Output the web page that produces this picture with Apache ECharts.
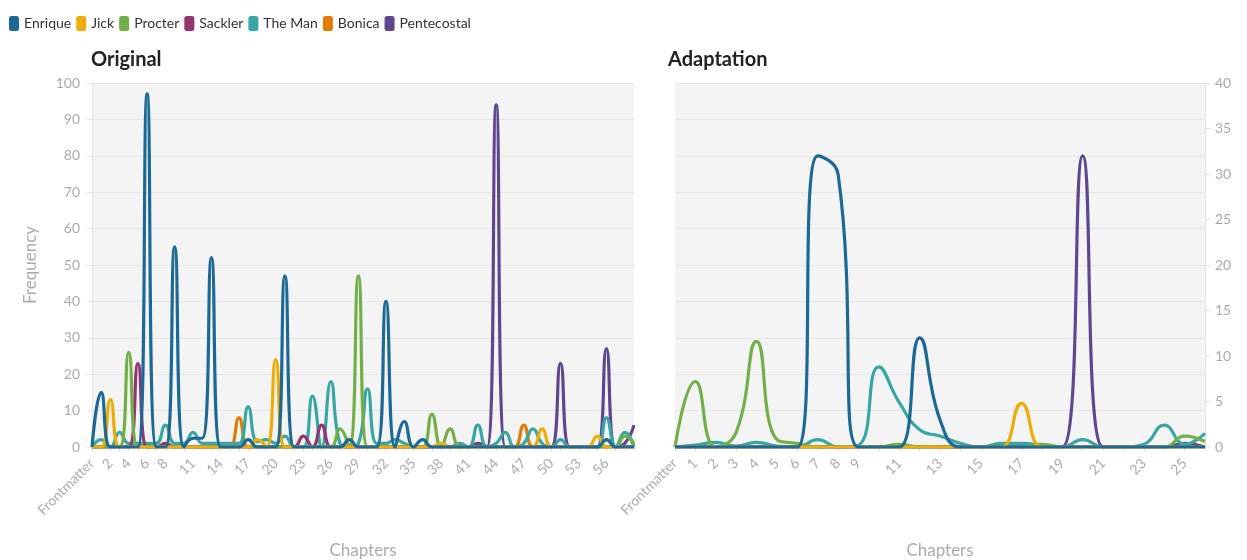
<!DOCTYPE html>
<html>
<head>
<meta charset="utf-8">
<script src="https://cdn.jsdelivr.net/npm/echarts@6/dist/echarts.min.js"></script>
<style>
  html, body { margin: 0; padding: 0; background: #fff; }
  #main { width: 1247px; height: 560px; }
</style>
</head>
<body>
<div id="main"></div>
<script>
// names and colours of the characters
var names = ['Enrique', 'Jick', 'Procter', 'Sackler', 'The Man', 'Bonica', 'Pentecostal'];
var colors = ['#1d6996', '#edad08', '#73af48', '#94346e', '#38a6a5', '#e17c05', '#5f4690'];

// chapters of the original (Frontmatter, 1..59)
var origChapters = ['Frontmatter'];
for (var i = 1; i <= 59; i++) origChapters.push(String(i));
// chapters of the adaptation (Frontmatter, 1..26)
var adaptChapters = ['Frontmatter'];
for (var j = 1; j <= 26; j++) adaptChapters.push(String(j));

// Original
var origEnrique = [0,15,0,0,0,0,97,0,0,55, 0,2.4,2.4,52,0,0,0,2,0,0, 0,47,0,0,0,0,0,0,2,0, 0,0,40,0,7,0,2,0,0,0, 0,0,0,0,0,0,0,0,0,0, 0,0,0,0,0,0,2,0,0,0];
var origJick = [0,0,13,0,0,0,0,0,0,0, 0,0,0,0,0,0,0,0,2,0, 24,0,0,0,0,0,0,0,0,0, 0,0,0,0,0,0,0,0,1,0, 0,0,0,0,0,0,0,0,0,5, 0,0,0,0,0,3,0,0,0,0];
var origProcter = [0,0,0,0,26,0,0,0,0,0, 0,0,0,0,0,0,0,0,0,0, 0,0,0,0,0,0,0,5,0,47, 0,0,0,0,0,0,0,9,0,5, 0,0,0,0,0,0,0,0,0,0, 0,0,0,0,0,0,0,0,3,1];
var origSackler = [0,0,0,0,0,23,0,0,1,0, 0,0,0,0,0,0,0,0,0,0, 0,0,0,3,0,6,0,0,0,0, 0,0,0,0,0,0,0,0,0,0, 0,0,0,0,0,0,0,0,0,0, 0,0,0,0,0,0,0,0,0,0];
var origTheMan = [0,2,0,4,1,1,1,1,6,1, 1,4,1,1,1,1,1,11,1.5,2, 1,3,0,0,14,0,18,1,0,1, 16,1,1,2,1,0,0,0,1,0, 1,0,6,0,1,4,0,1,5,1, 0,2,0,0,0,0,8,0,4,0];
var origBonica = [0,0,0,0,0,0,0,0,0,0, 0,0,0,0,0,0,8,0,0,0, 0,0,0,0,0,0,0,0,0,0, 0,0,0,0,0,0,0,0,0,0, 0,0,0,0,0,0,0,6,0,0, 0,0,0,0,0,0,0,0,0,0];
var origPentecostal = [0,0,0,0,0,0,0,0,0,0, 0,0,0,0,0,0,0,0,0,0, 0,0,0,0,0,0,0,0,0,0, 0,0,0,0,0,0,0,0,0,0, 0,0,1,0,94,0,0,0,0,0, 0,23,0,0,0,0,27,0,1,6];

// Adaptation
var adaptEnrique = [0,0,0,0,0,0,0,32,30,0, 0,0,12,3,0,0,0,0,0,0, 0,0,0,0,0,0,0];
var adaptJick = [0,0,0,0,0,0,0,0,0,0, 0,0,0,0,0,0,0,4.8,0,0, 0,0,0,0,0,0,0];
var adaptProcter = [0,7.2,0,1.6,11.6,0.8,0.4,0,0,0, 0,0.3,0,0,0,0,0,0,0.3,0, 0,0,0,0,0,1.2,0.6];
var adaptSackler = [0,0,0,0,0,0,0,0,0,0, 0,0,0,0,0,0,0,0,0,0, 0,0,0,0,0,0,0];
var adaptTheMan = [0,0.2,0.5,0.1,0.5,0.1,0,0.8,0,0.2, 8.8,4.9,1.9,1.2,0.4,0,0.4,0.4,0.2,0, 0.8,0,0,0.3,2.4,0.3,1.5];
var adaptBonica = [0,0,0,0,0,0,0,0,0,0, 0,0,0,0,0,0,0,0,0,0, 0,0,0,0,0,0,0];
var adaptPentecostal = [0,0,0,0,0,0,0,0,0,0, 0,0,0,0,0,0,0,0,0,0, 32,0,0,0,0,0.4,0];

var origData = [origEnrique, origJick, origProcter, origSackler, origTheMan, origBonica, origPentecostal];
var adaptData = [adaptEnrique, adaptJick, adaptProcter, adaptSackler, adaptTheMan, adaptBonica, adaptPentecostal];

var font = 'Lato';
var grey = '#ababab';

var series = [];
function addSeries(list, xi, yi) {
    for (var k = 0; k < names.length; k++) {
        series.push({
            name: names[k],
            type: 'line',
            xAxisIndex: xi,
            yAxisIndex: yi,
            data: list[k],
            smooth: 0.5,
            symbol: 'none',
            z: 10 - k,
            lineStyle: { width: 3.2, color: colors[k] },
            itemStyle: { color: colors[k] }
        });
    }
}
addSeries(origData, 0, 0);
addSeries(adaptData, 1, 2);

function xAxisFor(data, gi, showFn) {
    return {
        type: 'category',
        gridIndex: gi,
        data: data,
        boundaryGap: false,
        name: 'Chapters',
        nameLocation: 'middle',
        nameGap: 95,
        nameTextStyle: { color: grey, fontSize: 17, fontFamily: font },
        axisLine: { show: false },
        axisTick: { show: true, interval: 0, length: 4, lineStyle: { color: '#dddddd' } },
        axisLabel: {
            interval: showFn,
            rotate: 45,
            color: grey,
            fontSize: 14,
            fontFamily: font,
            margin: 14
        },
        splitLine: { show: false }
    };
}

var option = {
    animation: false,
    color: colors,
    title: [
        { text: 'Original', left: 86, top: 45, textStyle: { fontSize: 20, fontWeight: 'bold', color: '#222', fontFamily: font } },
        { text: 'Adaptation', left: 663, top: 45, textStyle: { fontSize: 20, fontWeight: 'bold', color: '#222', fontFamily: font } }
    ],
    legend: {
        data: names,
        left: 4,
        top: 11,
        icon: 'roundRect',
        itemWidth: 10,
        itemHeight: 15,
        itemGap: 5,
        textStyle: { fontSize: 14, color: '#333', fontFamily: font }
    },
    grid: [
        { left: 92, right: 613, top: 83, bottom: 113, outerBoundsMode: 'none', show: true, backgroundColor: '#f4f4f4', borderWidth: 0 },
        { left: 675, right: 42, top: 83, bottom: 113, outerBoundsMode: 'none', show: true, backgroundColor: '#f4f4f4', borderWidth: 0 }
    ],
    xAxis: [
        xAxisFor(origChapters, 0, function (i) { return i <= 8 ? i % 2 === 0 : (i <= 56 && (i - 8) % 3 === 0); }),
        xAxisFor(adaptChapters, 1, function (i) { return i <= 9 || (i % 2 === 1 && i <= 25); })
    ],
    yAxis: [
        {
            type: 'value', gridIndex: 0, min: 0, max: 100, interval: 10,
            name: 'Frequency', nameLocation: 'middle', nameGap: 53,
            nameTextStyle: { color: grey, fontSize: 17, fontFamily: font },
            axisLine: { show: true, lineStyle: { color: '#e4e4e4' } },
            axisTick: { show: true, length: 5, lineStyle: { color: '#e4e4e4' } },
            axisLabel: { color: grey, fontSize: 14, fontFamily: font, margin: 12 },
            splitLine: { lineStyle: { color: '#e6e6e6', width: 1 } }
        },
        {
            // gridlines of the adaptation panel follow the 0-100 steps
            type: 'value', gridIndex: 1, min: 0, max: 100, interval: 10,
            axisLine: { show: false }, axisTick: { show: false }, axisLabel: { show: false },
            splitLine: { lineStyle: { color: '#e6e6e6', width: 1 } }
        },
        {
            type: 'value', gridIndex: 1, position: 'right', min: 0, max: 40, interval: 5,
            axisLine: { show: true, lineStyle: { color: '#e4e4e4' } },
            axisTick: { show: true, length: 5, lineStyle: { color: '#e4e4e4' } },
            axisLabel: { color: grey, fontSize: 14, fontFamily: font, margin: 10 },
            splitLine: { show: false }
        }
    ],
    series: series
};

var chart = echarts.init(document.getElementById('main'));
chart.setOption(option);
</script>
</body>
</html>
